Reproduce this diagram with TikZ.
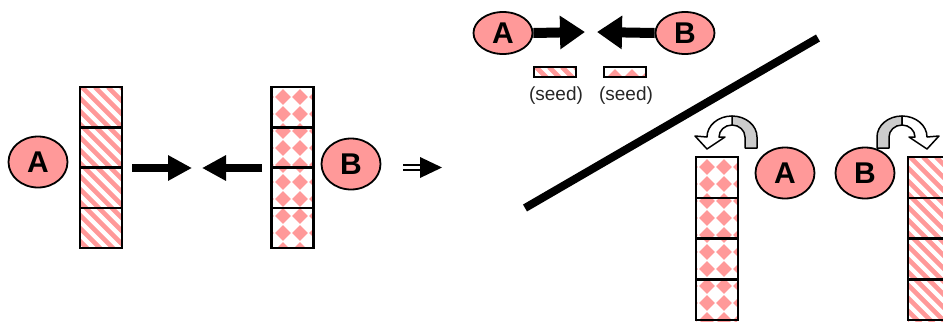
\documentclass[tikz,border=0pt]{standalone}
\usepackage{fontspec}
\setmainfont{Liberation Sans}
\usetikzlibrary{shapes.geometric,arrows.meta}
\definecolor{rose}{HTML}{FF9999}
\definecolor{ribbon}{HTML}{CCCCCC}

% striped filling of a box: x, y (top-left), width, height
\newcommand\stripefill[4]{%
  \begin{scope}
    \clip (#1,#2) rectangle ++(#3,#4);
    \foreach \s in {-180,-167,...,60}
      \draw[stripe] (#1+\s,#2) -- ++(240,240);
  \end{scope}}
% diamond (rotated checker) filling of a box: x, y (top-left), width, height
\newcommand\diamondfill[4]{%
  \begin{scope}
    \clip (#1,#2) rectangle ++(#3,#4);
    \foreach \i in {-1,...,3}
      \foreach \j in {-1,...,10}
        \fill[rose] (#1+11+\i*17,#2+10+\j*17) ++(-7.8,0) -- ++(7.8,-7.8)
          -- ++(7.8,7.8) -- ++(-7.8,7.8) -- cycle;
  \end{scope}}
% column of four cells: x, y, cell height
\newcommand\cellgrid[3]{%
  \foreach \c in {0,...,3}
    \draw[cellline] (#1,#2+\c*#3) rectangle ++(42,#3);}

\begin{document}
\begin{tikzpicture}[x=1pt,y=-1pt,
  blob/.style={ellipse, draw=black, line width=1.8pt, fill=rose,
    minimum width=59pt, minimum height=51pt, inner sep=0pt,
    font=\fontsize{30}{30}\selectfont\bfseries},
  smallblob/.style={blob, minimum height=42pt},
  stripe/.style={draw=rose, line width=4.6pt},
  cellline/.style={draw=black, line width=2.5pt},
  bigarrow/.style={line width=8pt, -{Triangle[length=24pt,width=24pt]}},
  topArrow/.style={line width=10pt, -{Triangle[length=25pt,width=32pt]}},
  seedlabel/.style={font=\fontsize{19}{19}\selectfont, text=black!85, inner sep=0pt},
  curl/.style={draw=black, line width=1.5pt, line join=round}]

\clip (0,0) rectangle (943,322);

% ---- left: the two columns facing each other ----
\node[blob] (A1) at (38,162) {A};
\stripefill{80}{87}{42}{161}
\cellgrid{80}{87}{40.25}

\diamondfill{272}{87}{41}{161}
\cellgrid{271.5}{87}{40.25}
\node[blob] (B1) at (351,164) {B};

\coordinate (r0) at (132,168);
\coordinate (r1) at (192,168);
\coordinate (l0) at (262,168);
\coordinate (l1) at (202,168);
\draw[bigarrow] (r0) -- (r1);
\draw[bigarrow] (l0) -- (l1);

% ---- implication sign ----
\coordinate (i0) at (403,167.5);
\coordinate (i1) at (442,167.5);
\draw[line width=1.8pt] (i0) ++(0,-2.5) -- ++(18,0);
\draw[line width=1.8pt] (i0) ++(0,2.5) -- ++(18,0);
\fill (i1) -- ++(-22,-10.5) -- ++(0,21) -- cycle;

% ---- top: the two seeds ----
\node[smallblob] (A2) at (503,33) {A};
\node[smallblob] (B2) at (685,33) {B};
\coordinate (ta) at (585,32);
\coordinate (tb) at (597,32);
\draw[topArrow] (A2.east) -- (ta);
\draw[topArrow] (B2.west) -- (tb);

\stripefill{534}{67}{42}{10}
\draw[line width=2pt] (534,67) rectangle (576,77);
\diamondfill{604}{67}{42}{10}
\draw[line width=2pt] (604,67) rectangle (646,77);
\node[seedlabel] (s1) at (556,96) {(seed)};
\node[seedlabel] (s2) at (626,96) {(seed)};

% ---- separating stroke ----
\coordinate (d0) at (525,208);
\coordinate (d1) at (818,38);
\draw[line width=8pt] (d0) -- (d1);

% ---- bottom right: the swapped columns ----
\diamondfill{696}{157}{41}{164}
\cellgrid{696}{157}{40.75}
\node[blob] (A3) at (785,173) {A};
\node[blob] (B3) at (865,173) {B};
\stripefill{908}{157}{42}{164}
\cellgrid{908}{157}{40.75}

% curled arrow over A (curling to the left)
\filldraw[curl, fill=ribbon] (757,148) -- (757,137)
  arc[start angle=0, end angle=-90, x radius=25, y radius=21]
  -- (732,125) arc[start angle=-90, end angle=0, x radius=13, y radius=12]
  -- (745,148) -- cycle;
\filldraw[curl, fill=white] (732,116)
  arc[start angle=-90, end angle=-180, x radius=25, y radius=21]
  -- (695,136) -- (707,149) -- (725,137) -- (719,137)
  arc[start angle=180, end angle=270, x radius=13, y radius=12] -- cycle;

% curled arrow over B (curling to the right)
\filldraw[curl, fill=ribbon] (877,148) -- (877,137)
  arc[start angle=180, end angle=270, x radius=25, y radius=21]
  -- (902,125) arc[start angle=270, end angle=180, x radius=13, y radius=12]
  -- (889,148) -- cycle;
\filldraw[curl, fill=white] (902,116)
  arc[start angle=-90, end angle=0, x radius=25, y radius=21]
  -- (939,136) -- (927,149) -- (909,137) -- (915,137)
  arc[start angle=0, end angle=-90, x radius=13, y radius=12] -- cycle;
\end{tikzpicture}
\end{document}
